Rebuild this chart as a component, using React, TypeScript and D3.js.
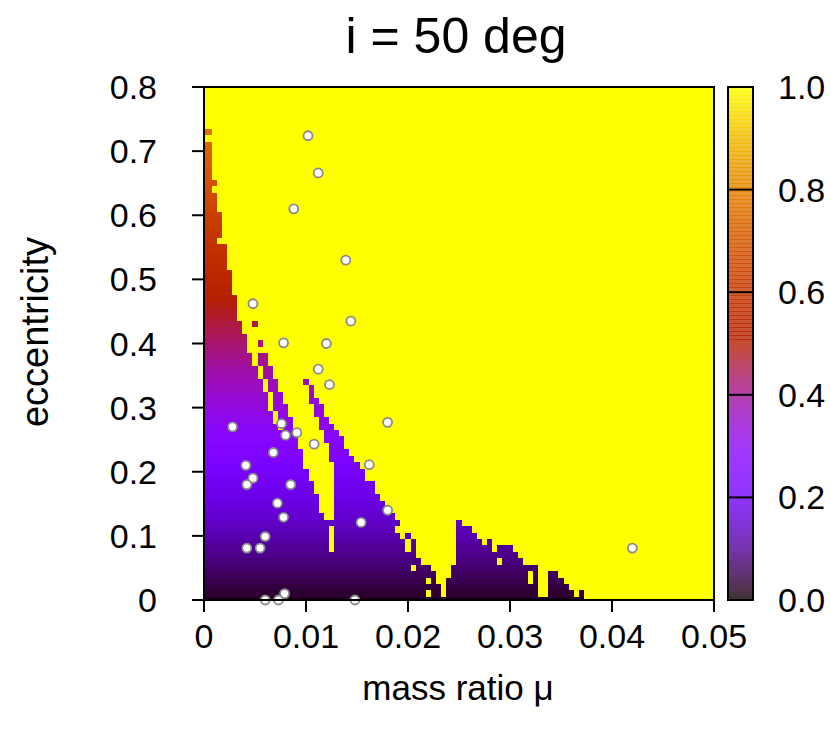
import React from 'react';
import * as d3 from 'd3';

const TITLE = 'i = 50 deg';
const X_LABEL = 'mass ratio μ';
const Y_LABEL = 'eccentricity';

const xTickValues = [0, 0.01, 0.02, 0.03, 0.04, 0.05];
const xTickLabels = ['0', '0.01', '0.02', '0.03', '0.04', '0.05'];
const yTickValues = [0, 0.1, 0.2, 0.3, 0.4, 0.5, 0.6, 0.7, 0.8];
const yTickLabels = ['0', '0.1', '0.2', '0.3', '0.4', '0.5', '0.6', '0.7', '0.8'];
const cbTickValues = [0, 0.2, 0.4, 0.6, 0.8, 1.0];
const cbTickLabels = ['0.0', '0.2', '0.4', '0.6', '0.8', '1.0'];

// grid spacing of the map
const MU_STEP = 0.0005;
const ECC_STEP = 0.01;

// value shown in the non-yellow cells of each eccentricity row (row j -> e = j*0.01)
const rowLevel = [
  0.02, 0.03, 0.04, 0.05, 0.06, 0.07, 0.08, 0.09, 0.10, 0.11,
  0.12, 0.13, 0.14, 0.15, 0.16, 0.17, 0.18, 0.19, 0.20, 0.21,
  0.22, 0.23, 0.24, 0.25, 0.26, 0.27, 0.28, 0.29, 0.31, 0.32,
  0.33, 0.34, 0.35, 0.36, 0.37, 0.38, 0.39, 0.40, 0.41, 0.42,
  0.43, 0.44, 0.45, 0.46, 0.47, 0.48, 0.49, 0.50, 0.51, 0.52,
  0.53, 0.54, 0.55, 0.56, 0.57, 0.58, 0.59, 0.60, 0.61, 0.62,
  0.63, 0.64, 0.65, 0.66, 0.67, 0.68, 0.69, 0.70, 0.71, 0.72,
  0.73, 0.74, 0.75, 0.76,
];

// non-yellow column ranges (column k -> mu = k*0.0005) for each eccentricity row
const rowSegments: number[][][] = [
  [[0, 74]],
  [[0, 43], [45, 46], [48, 65], [68, 72], [74, 74]],
  [[0, 46], [48, 65], [68, 71]],
  [[0, 43], [45, 45], [48, 63], [65, 65], [68, 70]],
  [[0, 45], [49, 63], [65, 65], [68, 69]],
  [[0, 40], [42, 44], [49, 65]],
  [[0, 42], [50, 57], [59, 62]],
  [[0, 41], [50, 61]],
  [[0, 24], [26, 39], [41, 41], [50, 56], [58, 60]],
  [[0, 24], [26, 39], [41, 41], [50, 54], [56, 56]],
  [[0, 24], [26, 38], [40, 40], [50, 53]],
  [[0, 24], [26, 37], [50, 52]],
  [[0, 38], [50, 50]],
  [[0, 23], [26, 37]],
  [[0, 22], [26, 36]],
  [[0, 22], [26, 35]],
  [[0, 22], [26, 34]],
  [[0, 21], [26, 33]],
  [[0, 21], [26, 33]],
  [[0, 20], [26, 31]],
  [[0, 20], [26, 31]],
  [[0, 19], [26, 30]],
  [[0, 19], [25, 29]],
  [[0, 19], [25, 28]],
  [[0, 18], [25, 27]],
  [[0, 18], [24, 27]],
  [[0, 17], [24, 26]],
  [[0, 14], [16, 17], [23, 25]],
  [[0, 13], [15, 17], [23, 24]],
  [[0, 13], [15, 16], [22, 23]],
  [[0, 12], [14, 16], [22, 23]],
  [[0, 12], [14, 15], [21, 22]],
  [[0, 12], [14, 15], [21, 21]],
  [[0, 11], [13, 14], [21, 21]],
  [[0, 11], [13, 14], [20, 20]],
  [[0, 10], [12, 13]],
  [[0, 10], [12, 13]],
  [[0, 9], [11, 12]],
  [[0, 9], [11, 12]],
  [[0, 8]],
  [[0, 8], [11, 11]],
  [[0, 8]],
  [[0, 7]],
  [[0, 7], [10, 10]],
  [[0, 6]],
  [[0, 6]],
  [[0, 6]],
  [[0, 6]],
  [[0, 5]],
  [[0, 5]],
  [[0, 5]],
  [[0, 5]],
  [[0, 4]],
  [[0, 4]],
  [[0, 4]],
  [[0, 4]],
  [[0, 2]],
  [[0, 3]],
  [[0, 3]],
  [[0, 3]],
  [[0, 3]],
  [[0, 2]],
  [[0, 2]],
  [[0, 2]],
  [[0, 1]],
  [[0, 2]],
  [[0, 1]],
  [[0, 1]],
  [[0, 1]],
  [[0, 1]],
  [[0, 1]],
  [[0, 1]],
  [],
  [[0, 1]],
];

// observed systems
const planetMu = [
  0.0102, 0.0112, 0.0088, 0.0139, 0.0048, 0.0144, 0.0078, 0.0120, 0.0112, 0.0123,
  0.0028, 0.0076, 0.0080, 0.0091, 0.0108, 0.0180, 0.0068, 0.0041, 0.0162, 0.0048,
  0.0042, 0.0085, 0.0072, 0.0180, 0.0078, 0.0154, 0.0060, 0.0042, 0.0055, 0.0420,
  0.0079, 0.0060, 0.0073, 0.0148,
];
const planetEcc = [
  0.724, 0.666, 0.610, 0.530, 0.462, 0.435, 0.401, 0.400, 0.360, 0.336,
  0.270, 0.275, 0.257, 0.261, 0.243, 0.277, 0.230, 0.210, 0.211, 0.190,
  0.180, 0.180, 0.151, 0.140, 0.129, 0.121, 0.099, 0.081, 0.081, 0.081,
  0.010, 0.000, 0.000, 0.000,
];

const FONT = '"Liberation Sans", Arial, Helvetica, sans-serif';

function palette(v: number): string {
  const t = Math.max(0, Math.min(1, v));
  const r = Math.sqrt(t);
  const g = t * t * t;
  const b = Math.max(0, Math.sin(2 * Math.PI * t));
  return d3.rgb(r * 255, g * 255, b * 255).formatHex();
}

export default function App() {
  const left = 204, right = 714, top = 87, bottom = 600;
  const x = d3.scaleLinear().domain([0, 0.05]).range([left, right]);
  const y = d3.scaleLinear().domain([0, 0.8]).range([bottom, top]);
  const cbLeft = 728, cbRight = 753;
  const cb = d3.scaleLinear().domain([0, 1]).range([bottom, top]);

  const cells: JSX.Element[] = [];
  rowSegments.forEach((segs, j) => {
    const e0 = j * ECC_STEP - ECC_STEP / 2;
    const e1 = j * ECC_STEP + ECC_STEP / 2;
    segs.forEach(([c0, c1], k) => {
      const m0 = c0 * MU_STEP - MU_STEP / 2;
      const m1 = c1 * MU_STEP + MU_STEP / 2;
      cells.push(
        <rect
          key={`c${j}-${k}`}
          x={x(m0)}
          y={y(e1)}
          width={x(m1) - x(m0)}
          height={y(e0) - y(e1)}
          fill={palette(rowLevel[j])}
        />
      );
    });
  });

  const cbSteps = d3.range(0, 1, 1 / 128);

  return (
    <svg width={831} height={736} style={{ position: 'absolute', left: 0, top: 0, background: '#fff' }}>
      <defs>
        <clipPath id="plotclip">
          <rect x={left} y={top} width={right - left} height={bottom - top} />
        </clipPath>
      </defs>
      <rect x={0} y={0} width={831} height={736} fill="#fff" />
      <g clipPath="url(#plotclip)" shapeRendering="crispEdges">
        <rect x={left} y={top} width={right - left} height={bottom - top} fill={palette(1)} />
        {cells}
      </g>
      {planetMu.map((m, i) => (
        <circle key={`p${i}`} cx={x(m)} cy={y(planetEcc[i])} r={4.5} fill="#fff" stroke="#8a8a8a" strokeWidth={1.8} />
      ))}
      <rect x={left} y={top} width={right - left} height={bottom - top} fill="none" stroke="#000" strokeWidth={2} />
      {xTickValues.map((v, i) => (
        <g key={`xt${i}`}>
          <line x1={x(v)} x2={x(v)} y1={bottom} y2={bottom + 12} stroke="#000" strokeWidth={2} />
          <text x={x(v)} y={648} textAnchor="middle" fontFamily={FONT} fontSize={34} fill="#000">{xTickLabels[i]}</text>
        </g>
      ))}
      {yTickValues.map((v, i) => (
        <g key={`yt${i}`}>
          <line x1={left - 12} x2={left} y1={y(v)} y2={y(v)} stroke="#000" strokeWidth={2} />
          <text x={157} y={y(v) + 12} textAnchor="end" fontFamily={FONT} fontSize={34} fill="#000">{yTickLabels[i]}</text>
        </g>
      ))}
      <g shapeRendering="crispEdges">
        {cbSteps.map((v, i) => (
          <rect key={`cb${i}`} x={cbLeft} y={cb(v + 1 / 128)} width={cbRight - cbLeft} height={cb(v) - cb(v + 1 / 128) + 0.5} fill={palette(v + 0.5 / 128)} opacity={0.8} />
        ))}
      </g>
      <rect x={cbLeft} y={top} width={cbRight - cbLeft} height={bottom - top} fill="none" stroke="#000" strokeWidth={2} />
      {cbTickValues.map((v, i) => (
        <g key={`ct${i}`}>
          {i > 0 && i < cbTickValues.length - 1 && (
            <line x1={cbLeft} x2={cbRight} y1={cb(v)} y2={cb(v)} stroke="#000" strokeWidth={2} />
          )}
          <text x={778} y={cb(v) + 12} textAnchor="start" fontFamily={FONT} fontSize={34} fill="#000">{cbTickLabels[i]}</text>
        </g>
      ))}
      <text x={456} y={53} textAnchor="middle" fontFamily={FONT} fontSize={50} fill="#000">{TITLE}</text>
      <text x={458} y={700} textAnchor="middle" fontFamily={FONT} fontSize={35} fill="#000">{X_LABEL}</text>
      <text transform="translate(48,332) rotate(-90)" textAnchor="middle" fontFamily={FONT} fontSize={38} fill="#000">{Y_LABEL}</text>
    </svg>
  );
}
